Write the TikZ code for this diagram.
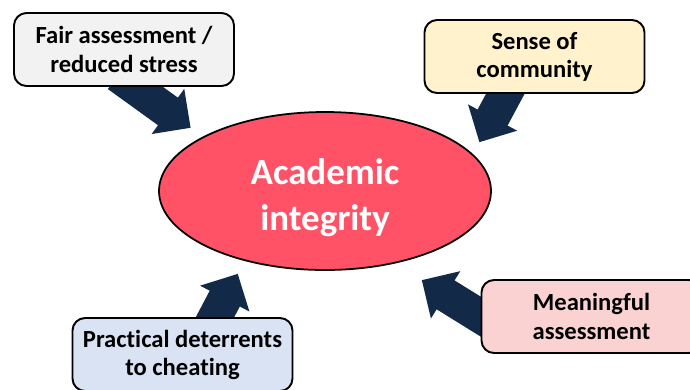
\documentclass[tikz,border=0pt]{standalone}
\usepackage{fontspec}
\setmainfont{Carlito}[Ligatures=NoCommon]
\usetikzlibrary{shapes.geometric,arrows.meta,backgrounds}

\definecolor{navy}{RGB}{19,41,72}
\definecolor{aired}{RGB}{255,82,102}
\definecolor{graybox}{RGB}{242,242,242}
\definecolor{yellowbox}{RGB}{255,242,204}
\definecolor{bluebox}{RGB}{218,227,243}
\definecolor{pinkbox}{RGB}{250,210,210}

\tikzset{
  topic/.style={draw, line width=1.1pt, rounded corners=0.25cm,
    minimum width=4.4cm, minimum height=1.46cm, align=center,
    font=\bfseries\fontsize{14}{16}\selectfont},
  push/.style={draw=navy, line width=0.68cm,
    -{Triangle[width=1.08cm,length=0.56cm]},
    shorten <=-0.4cm, shorten >=#1}
}

\begin{document}
\begin{tikzpicture}
    \useasboundingbox (0,0) rectangle (13.8,-7.78);

    \node[ellipse, draw, line width=1pt, fill=aired,
          minimum width=6.64cm, minimum height=3.16cm] (ai) at (6.5,-3.82) {};
    \node[text=white, align=center, font=\bfseries\fontsize{21}{26}\selectfont]
          (aitext) at ([yshift=-0.13cm]ai.center) {Academic\\integrity};

    \node[topic, fill=graybox]   (fair)  at (2.48,-0.99) {Fair assessment /\\reduced stress};
    \node[topic, fill=yellowbox] (sense) at (10.69,-1.13) {Sense of\\community};
    \node[topic, fill=bluebox]   (deter) at (3.65,-7.09) {Practical deterrents\\to cheating};
    \node[topic, fill=pinkbox]   (mean)  at (11.83,-6.33) {Meaningful\\assessment};

    \begin{pgfonlayer}{background}
    \draw[push=0.3cm]  (fair.-75)   -- (ai.156);
    \draw[push=0.27cm] (sense.-128) -- (ai.14);
    \draw[push=0.29cm] (deter.49)   -- (ai.-139);
    \draw[push=0.63cm] (mean.west)  -- (ai.-46);
    \end{pgfonlayer}
\end{tikzpicture}
\end{document}
